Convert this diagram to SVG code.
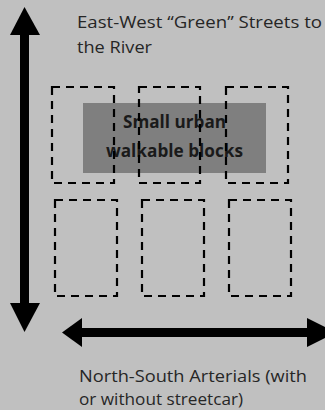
<svg xmlns="http://www.w3.org/2000/svg" width="325" height="410" viewBox="0 0 325 410">
<style>
.lbl{font-family:"Open Sans","Liberation Sans",sans-serif;font-size:17px;fill:#262626}
.blk{fill:none;stroke:#000;stroke-width:2.2;stroke-dasharray:8 6}
.bold{font-family:"Open Sans","Liberation Sans",sans-serif;font-size:17px;font-weight:bold;fill:#1a1a1a}
</style>
<rect width="325" height="410" fill="#c0c0c0"/>
<g id="connectors">
<path d="M20,35 H29 V303 H20 Z" fill="#000"/>
<polygon points="24.5,7 10,35 40,35" fill="#000"/>
<polygon points="24.5,332 10,303 40,303" fill="#000"/>
<rect x="80" y="328" width="235" height="9" fill="#000"/>
<polygon points="62,332.5 82,318 82,347" fill="#000"/>
<polygon points="336,332.5 307,318 307,347" fill="#000"/>
</g>
<g id="label-ew"><text class="lbl" x="77" y="28" textLength="245" lengthAdjust="spacingAndGlyphs">East-West “Green” Streets to</text><text class="lbl" x="77" y="53" textLength="75" lengthAdjust="spacingAndGlyphs">the River</text></g>
<g id="core"><rect x="83" y="103" width="183" height="70" fill="#7f7f7f"/>
<text class="bold" x="123" y="128" textLength="103" lengthAdjust="spacingAndGlyphs">Small urban</text><text class="bold" x="106" y="157" textLength="137" lengthAdjust="spacingAndGlyphs">walkable blocks</text></g>
<g id="blocks">
<rect class="blk" x="52" y="87" width="62" height="96"/>
<rect class="blk" x="139" y="87" width="61" height="96"/>
<rect class="blk" x="226" y="87" width="62" height="96"/>
<rect class="blk" x="55" y="200" width="62" height="96"/>
<rect class="blk" x="142" y="200" width="62" height="96"/>
<rect class="blk" x="229" y="200" width="62" height="96"/>
</g>
<g id="label-ns"><text class="lbl" x="79" y="382" textLength="228" lengthAdjust="spacingAndGlyphs">North-South Arterials (with</text><text class="lbl" x="79" y="405" textLength="164" lengthAdjust="spacingAndGlyphs">or without streetcar)</text></g>
</svg>
